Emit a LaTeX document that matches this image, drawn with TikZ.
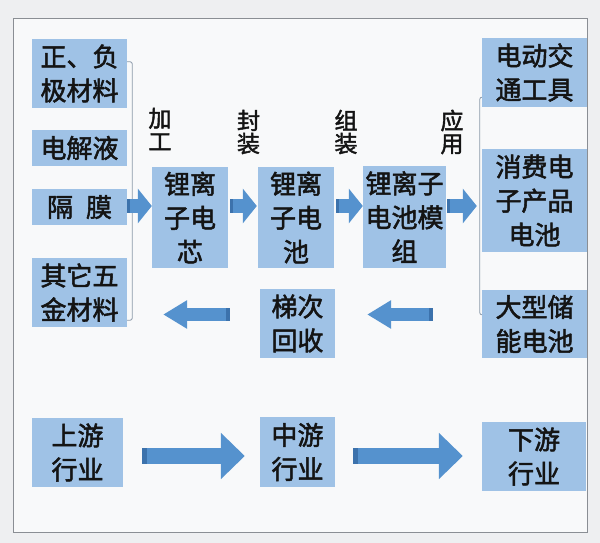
\documentclass[tikz,border=0pt]{standalone}
\usepackage{fontspec}
\setmainfont{Noto Sans CJK SC}[FakeBold=2]
\usetikzlibrary{arrows.meta,calc}
\definecolor{boxblue}{HTML}{9FC2E6}
\definecolor{arrblue}{HTML}{5592CE}
\definecolor{arrdark}{HTML}{3C72AC}
\definecolor{txt}{HTML}{141414}
\definecolor{bg}{HTML}{EEEFF1}
\definecolor{inner}{HTML}{F8F9FA}
\definecolor{frame}{HTML}{8A8E94}
\definecolor{brk}{HTML}{8C9AAA}
\tikzset{
  box/.style={fill=boxblue, draw=none, inner sep=0pt, align=center, text=txt,
    font=\fontsize{26}{34}\selectfont},
  lab/.style={inner sep=0pt, align=center, text=txt, font=\fontsize{23}{23}\selectfont},
  smallarr/.style={draw=arrblue, line width=14pt, -{Triangle[width=34pt,length=14pt]}},
  bigarr/.style={draw=arrblue, line width=16pt, -{Triangle[width=45pt,length=24pt]}},
  backarr/.style={draw=arrblue, line width=13pt, -{Triangle[width=27pt,length=24pt]}},
  tailmark/.style={draw=arrdark, line width=#1},
  bracket/.style={draw=brk, line width=0.8pt, rounded corners=2pt},
}
\begin{document}
\begin{tikzpicture}[x=1pt,y=-1pt]
\useasboundingbox (0,0) rectangle (600,543);
\fill[bg] (0,0) rectangle (600,543);
\draw[frame, fill=inner, line width=1pt] (13,19) rectangle (587,532);

% left materials
\node[box, minimum width=95pt, minimum height=69pt] (m1) at (79.5,73.5) {正、负\\极材料};
\node[box, minimum width=95pt, minimum height=36pt] (m2) at (79.5,148) {电解液};
\node[box, minimum width=95pt, minimum height=36pt] (m3) at (79.5,207) {隔\hspace{0.5em}膜};
\node[box, minimum width=95pt, minimum height=69pt] (m4) at (79.5,292.5) {其它五\\金材料};

% middle chain
\node[box, minimum width=76pt, minimum height=101pt] (c1) at (190,217.5) {锂离\\子电\\芯};
\node[box, minimum width=76pt, minimum height=101pt] (c2) at (296,217.5) {锂离\\子电\\池};
\node[box, minimum width=83pt, minimum height=102pt] (c3) at (404.5,217) {锂离子\\电池模\\组};

% applications
\node[box, minimum width=105pt, minimum height=69pt] (a1) at (534.5,72.5) {电动交\\通工具};
\node[box, minimum width=105pt, minimum height=103pt] (a2) at (534.5,200.5) {消费电\\子产品\\电池};
\node[box, minimum width=105pt, minimum height=68pt] (a3) at (534.5,324) {大型储\\能电池};

% recycling
\node[box, minimum width=75pt, minimum height=69pt] (r) at (297.5,323.5) {梯次\\回收};

% industry
\node[box, minimum width=91pt, minimum height=69pt] (u) at (77.5,452.5) {上游\\行业};
\node[box, minimum width=75pt, minimum height=70pt] (mid) at (297.5,452) {中游\\行业};
\node[box, minimum width=104pt, minimum height=69pt] (d) at (534,456.5) {下游\\行业};

% process labels
\node[lab] (l1) at (160,129) {加\\工};
\node[lab] (l2) at (248.5,132) {封\\装};
\node[lab] (l3) at (346,132) {组\\装};
\node[lab] (l4) at (452,132) {应\\用};

% brackets
\draw[bracket] ($(m1.north east)+(0,23)$) -- ++(5,0) |- ($(m4.south east)+(0,-7)$);
\draw[bracket] ($(a1.south west)+(0,-10)$) -- ++(-2,0) |- ($(a3.north west)+(0,25)$);

% top chain arrows
\coordinate (row) at (0,206);
\draw[smallarr] (m3.east |- row) -- (c1.west |- row);
\draw[tailmark=14pt] (m3.east |- row) -- ++(3,0);
\draw[smallarr, shorten <=2pt, shorten >=1pt] (c1.east |- row) -- (c2.west |- row);
\draw[tailmark=14pt] ($(c1.east |- row)+(2,0)$) -- ++(3,0);
\draw[smallarr, shorten <=2pt] (c2.east |- row) -- (c3.west |- row);
\draw[tailmark=14pt] ($(c2.east |- row)+(2,0)$) -- ++(3,0);
\draw[smallarr, shorten <=1pt, shorten >=5pt] (c3.east |- row) -- (a2.west |- row);
\draw[tailmark=14pt] ($(c3.east |- row)+(1,0)$) -- ++(3,0);

% return arrows
\coordinate (ret) at (0,314.5);
\draw[backarr, shorten <=49pt, shorten >=32pt] (a3.west |- ret) -- (r.east |- ret);
\draw[tailmark=13pt] ($(a3.west |- ret)+(-49,0)$) -- ++(-4,0);
\draw[backarr, shorten <=30pt, shorten >=36pt] (r.west |- ret) -- (m4.east |- ret);
\draw[tailmark=13pt] ($(r.west |- ret)+(-30,0)$) -- ++(-4,0);

% industry arrows
\coordinate (ind) at (0,456);
\draw[bigarr, shorten <=19pt, shorten >=15pt] (u.east |- ind) -- (mid.west |- ind);
\draw[tailmark=16pt] ($(u.east |- ind)+(19,0)$) -- ++(5,0);
\draw[bigarr, shorten <=18pt, shorten >=19pt] (mid.east |- ind) -- (d.west |- ind);
\draw[tailmark=16pt] ($(mid.east |- ind)+(18,0)$) -- ++(5,0);
\end{tikzpicture}
\end{document}
